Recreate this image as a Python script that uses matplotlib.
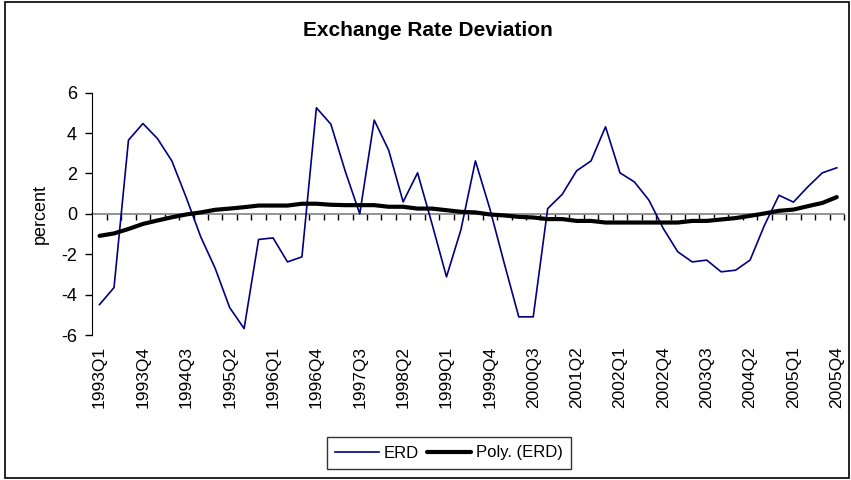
import matplotlib
matplotlib.use("Agg")
import matplotlib.pyplot as plt
from matplotlib.patches import Rectangle

plt.rcParams['font.family'] = ['Liberation Sans', 'DejaVu Sans']

# quarters 1993Q1 .. 2005Q4
quarters = [f"{y}Q{q}" for y in range(1993, 2006) for q in range(1, 5)]

# exchange rate deviation
erd = [-4.49, -3.65, 3.65, 4.47, 3.73, 2.62, 0.8, -1.14, -2.7, -4.64,
       -5.68, -1.27, -1.19, -2.38, -2.13, 5.25, 4.44, 2.1, 0.0, 4.64,
       3.15, 0.59, 2.03, -0.5, -3.12, -0.78, 2.62, 0.25, -2.46, -5.1,
       -5.1, 0.26, 0.96, 2.13, 2.62, 4.31, 2.03, 1.58, 0.68, -0.73,
       -1.88, -2.38, -2.29, -2.87, -2.79, -2.29, -0.56, 0.92, 0.58, 1.34,
       2.03, 2.28]

# polynomial trend line
poly = [-1.09, -0.97, -0.75, -0.5, -0.33, -0.17, -0.03, 0.07, 0.2, 0.26,
        0.33, 0.41, 0.41, 0.41, 0.5, 0.5, 0.45, 0.43, 0.43, 0.43,
        0.35, 0.35, 0.26, 0.26, 0.18, 0.1, 0.07, -0.03, -0.08, -0.15,
        -0.18, -0.26, -0.26, -0.35, -0.35, -0.43, -0.43, -0.43, -0.43, -0.43,
        -0.43, -0.35, -0.35, -0.28, -0.21, -0.1, 0.02, 0.15, 0.21, 0.38,
        0.54, 0.83]

x = list(range(len(quarters)))

fig = plt.figure(figsize=(8.51, 4.8), dpi=100)
ax = fig.add_axes([0.1085, 0.302, 0.8833, 0.505])

ax.plot(x, erd, color='#000080', lw=1.2, label='ERD')
ax.plot(x, poly, color='black', lw=3, label='Poly. (ERD)', solid_capstyle='round')

ax.set_xlim(-0.5, len(quarters) - 0.5)
ax.set_ylim(-6, 6)
ax.set_yticks([-6, -4, -2, 0, 2, 4, 6])
ax.set_yticklabels(['-6', '-4', '-2', '0', '2', '4', '6'])
ax.tick_params(axis='y', labelsize=13, length=5, width=1, pad=6)

# category labels at the bottom, every third quarter
ax.set_xticks(x[::3])
ax.set_xticklabels(quarters[::3], rotation=90, fontsize=12.5)
ax.tick_params(axis='x', length=0, pad=8)

for s in ['top', 'right', 'bottom']:
    ax.spines[s].set_visible(False)
ax.spines['left'].set_color('black')

# axis line through zero with tick marks between categories
zero = ax.secondary_xaxis(0.5)
zero.set_xticks([i + 0.5 for i in x])
zero.set_xticklabels([])
zero.tick_params(axis='x', which='both', bottom=True, top=False,
                 labelbottom=False, labeltop=False,
                 length=4, width=1, direction='out')
for s in zero.spines.values():
    s.set_color('#808080')
    s.set_linewidth(1.2)

ax.set_ylabel('percent', fontsize=13, labelpad=9)
fig.text(428 / 851, 1 - 30 / 480, 'Exchange Rate Deviation', ha='center', va='center',
         fontsize=15, fontweight='bold')

fig.legend(loc='center', bbox_to_anchor=(449 / 851, 1 - 453 / 480), ncol=2,
           fontsize=12, frameon=True, fancybox=False, edgecolor='black',
           handlelength=2.6, handletextpad=0.3, columnspacing=0.5,
           borderpad=0.5)

fig.patches.append(Rectangle((5 / 851, 2 / 480), 844 / 851, 476 / 480,
                             transform=fig.transFigure, fill=False,
                             edgecolor='black', lw=1.2))

fig.savefig('out.png', dpi=100)
